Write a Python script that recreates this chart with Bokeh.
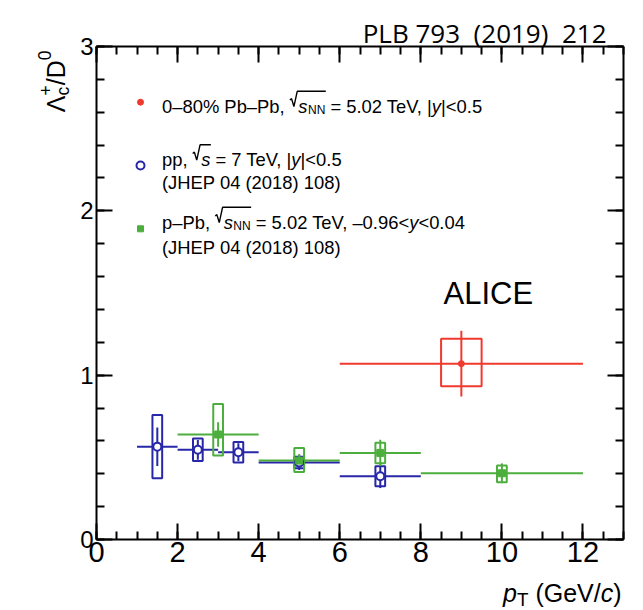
import numpy as np
from bokeh.plotting import figure
from bokeh.models import Range1d, LinearAxis, Label, FixedTicker, CustomJSTickFormatter
from bokeh.embed import file_html
from bokeh.resources import INLINE

# ---------------- data ----------------
pbpb_x = [9.0]
pbpb_xlo = [6.0]
pbpb_xhi = [12.0]
pbpb_y = [1.07]
pbpb_stat = [0.20]
pbpb_sys_lo = [0.138]
pbpb_sys_hi = [0.151]

pp_x = [1.5, 2.5, 3.5, 5.0, 7.0]
pp_xlo = [1.0, 2.0, 3.0, 4.0, 6.0]
pp_xhi = [2.0, 3.0, 4.0, 6.0, 8.0]
pp_y = [0.565, 0.546, 0.531, 0.468, 0.385]
pp_stat = [0.117, 0.060, 0.055, 0.045, 0.072]
pp_sys = [0.193, 0.068, 0.062, 0.035, 0.061]

ppb_x = [3.0, 5.0, 7.0, 10.0]
ppb_xlo = [2.0, 4.0, 6.0, 8.0]
ppb_xhi = [4.0, 6.0, 8.0, 12.0]
ppb_y = [0.639, 0.480, 0.527, 0.403]
ppb_stat = [0.075, 0.040, 0.080, 0.060]
ppb_sys_lo = [0.128, 0.070, 0.063, 0.054]
ppb_sys_hi = [0.186, 0.077, 0.061, 0.047]

x_major_ticks = [0, 2, 4, 6, 8, 10, 12]
x_minor_ticks = [i * 0.5 for i in range(27)]
y_major_ticks = [0, 1, 2, 3]
y_minor_ticks = [round(i * 0.2, 1) for i in range(16)]
X_LIMITS = (0.0, 13.0)
Y_LIMITS = (0.0, 3.0)

# ---------------- styles / layout ----------------
RED = "#f03a2e"
BLUE = "#2727a8"
GREEN = "#4cae3c"
FONT = "Liberation Sans"

W, H = 643, 610
# frame of the ROOT pad, in picture pixels
FL, FR, FT, FB = 96.0, 623.0, 46.0, 539.0
SX = (FR - FL) / (X_LIMITS[1] - X_LIMITS[0])
SY = (FB - FT) / (Y_LIMITS[1] - Y_LIMITS[0])


def gx(px):
    return X_LIMITS[0] + (px - FL) / SX


def gy(py):
    return Y_LIMITS[0] + (FB - py) / SY


p = figure(width=W, height=H,
           x_range=Range1d(gx(0), gx(W)), y_range=Range1d(gy(H), gy(0)),
           output_backend="svg", toolbar_location=None, min_border=0,
           x_axis_location=None, y_axis_location=None)
p.xgrid.visible = False
p.ygrid.visible = False
p.outline_line_color = None
p.background_fill_color = "white"
p.border_fill_color = "white"


def make_axis(ticks, minor, bounds, loc, show_labels, standoff, label_size):
    ax = LinearAxis(ticker=FixedTicker(ticks=ticks, minor_ticks=minor),
                    bounds=bounds, fixed_location=loc)
    ax.axis_line_width = 2
    ax.axis_line_color = "black"
    ax.major_tick_in = 16
    ax.major_tick_out = 0
    ax.minor_tick_in = 8
    ax.minor_tick_out = 0
    ax.major_tick_line_width = 2
    ax.minor_tick_line_width = 2
    ax.major_tick_line_color = "black"
    ax.minor_tick_line_color = "black"
    ax.major_label_text_font = FONT
    ax.major_label_text_font_size = label_size
    ax.major_label_text_color = "black"
    ax.major_label_standoff = standoff
    if not show_labels:
        ax.formatter = CustomJSTickFormatter(code="return ''")
    return ax


p.add_layout(make_axis(x_major_ticks, x_minor_ticks, X_LIMITS, Y_LIMITS[0], True, 2, "29px"), "below")
p.add_layout(make_axis(y_major_ticks, y_minor_ticks, Y_LIMITS, X_LIMITS[0], True, 3, "24px"), "left")
p.add_layout(make_axis(x_major_ticks, x_minor_ticks, X_LIMITS, Y_LIMITS[1], False, 0, "24px"), "above")
p.add_layout(make_axis(y_major_ticks, y_minor_ticks, Y_LIMITS, X_LIMITS[1], False, 0, "24px"), "right")


# ---------------- data drawing ----------------
def draw_series(x, xlo, xhi, y, stat, slo, shi, color, hw):
    p.quad(left=[a - hw for a in x], right=[a + hw for a in x],
           bottom=[b - s for b, s in zip(y, slo)], top=[b + s for b, s in zip(y, shi)],
           fill_color=None, line_color=color, line_width=2)
    p.segment(x0=xlo, y0=y, x1=xhi, y1=y, line_color=color, line_width=2)
    p.segment(x0=x, y0=[b - s for b, s in zip(y, stat)], x1=x, y1=[b + s for b, s in zip(y, stat)],
              line_color=color, line_width=2)


draw_series(pp_x, pp_xlo, pp_xhi, pp_y, pp_stat, pp_sys, pp_sys, BLUE, 0.12)
draw_series(ppb_x, ppb_xlo, ppb_xhi, ppb_y, ppb_stat, ppb_sys_lo, ppb_sys_hi, GREEN, 0.12)
draw_series(pbpb_x, pbpb_xlo, pbpb_xhi, pbpb_y, pbpb_stat, pbpb_sys_lo, pbpb_sys_hi, RED, 0.5)

p.scatter(pp_x, pp_y, marker="circle", size=8, fill_color="white", line_color=BLUE, line_width=2)
p.scatter(ppb_x, ppb_y, marker="square", size=7, fill_color=GREEN, line_color=GREEN, line_width=1)
p.scatter(pbpb_x, pbpb_y, marker="circle", size=6, fill_color=RED, line_color=RED, line_width=1)

# ---------------- text helpers ----------------
FWID = {' ': 0.278, '%': 0.889, '(': 0.333, ')': 0.333, '+': 0.584, ',': 0.278, '.': 0.278,
        '/': 0.278, '<': 0.584, '=': 0.584, 'A': 0.667, 'B': 0.667, 'C': 0.722, 'D': 0.722,
        'E': 0.667, 'G': 0.778, 'H': 0.722, 'I': 0.278, 'J': 0.5, 'L': 0.556, 'N': 0.722,
        'P': 0.667, 'T': 0.611, 'V': 0.667, 'b': 0.556, 'c': 0.5, 'e': 0.556, 'p': 0.556,
        's': 0.5, 'y': 0.5, '|': 0.26, '\u2013': 0.556, '\u039b': 0.667}
for d in "0123456789":
    FWID[d] = 0.556
KERN = {"Te": -0.111, "V,": -0.111}


def tw(s):
    w = sum(FWID.get(ch, 0.556) for ch in s)
    w += sum(KERN.get(s[i:i + 2], 0.0) for i in range(len(s) - 1))
    return w


def lab(xp, yp, text, fs, italic=False, angle=0.0, font=FONT, color="black", align="left"):
    lead = len(text) - len(text.lstrip(" "))
    shift = tw(" " * lead) * fs
    if angle == 0.0:
        xp += shift
    else:
        yp -= shift
    p.add_layout(Label(x=gx(xp), y=gy(yp), text=text.strip(" "), text_font=font,
                       text_font_size="%.1fpx" % fs,
                       text_font_style="italic" if italic else "normal",
                       text_color=color, text_align=align, text_baseline="alphabetic",
                       angle=angle))


def radical(x0, x_end, base, fs):
    xs = [x0, x0 + 0.09 * fs, x0 + 0.22 * fs, x0 + 0.40 * fs, x_end]
    ys = [base - 0.33 * fs, base - 0.40 * fs, base + 0.03 * fs, base - 0.80 * fs, base - 0.80 * fs]
    p.line([gx(v) for v in xs], [gy(v) for v in ys], line_color="black", line_width=1.4)


def legend_line(prefix, sub, rest_runs, x, base, fs):
    pos = x
    lab(pos, base, prefix, fs)
    pos += tw(prefix) * fs
    rx = pos
    pos += 0.46 * fs
    lab(pos, base, "s", fs, italic=True)
    pos += tw("s") * fs
    if sub:
        sfs = 0.65 * fs
        lab(pos + 0.5, base + 0.22 * fs, sub, sfs)
        pos += tw(sub) * sfs + 0.5
    radical(rx, pos + 0.5, base, fs)
    for t, it in rest_runs:
        lab(pos, base, t, fs, italic=it)
        pos += tw(t) * fs


LFS = 18.4
LX = 161.5
legend_line("0\u201380% Pb\u2013Pb, ", "NN",
            [(" = 5.02 TeV, |", False), ("y", True), ("|<0.5", False)], LX, 105.5, LFS)
legend_line("pp, ", "",
            [(" = 7 TeV, |", False), ("y", True), ("|<0.5", False)], LX, 159.0, LFS)
lab(LX, 182.0, "(JHEP 04 (2018) 108)", LFS)
legend_line("p\u2013Pb, ", "NN",
            [(" = 5.02 TeV, \u20130.96<", False), ("y", True), ("<0.04", False)], LX, 221.5, LFS)
lab(LX, 246.5, "(JHEP 04 (2018) 108)", LFS)

# legend swatches
p.scatter([gx(140)], [gy(101.7)], marker="circle", size=6, fill_color=RED, line_color=RED)
p.scatter([gx(140)], [gy(165.0)], marker="circle", size=8, fill_color="white", line_color=BLUE, line_width=2)
p.scatter([gx(140)], [gy(228.3)], marker="square", size=6, fill_color=GREEN, line_color=GREEN)

# ALICE
lab(443, 292.7, "ALICE", 31)

# x-axis title  p_T (GeV/c), right aligned at frame edge
XT_FS = 25
xt_runs = [("p", True, 1.0, 0.0), ("T", False, 0.75, 0.28), (" (GeV/", False, 1.0, 0.0),
           ("c", True, 1.0, 0.0), (")", False, 1.0, 0.0)]
total = sum(tw(t) * XT_FS * sc for t, it, sc, sh in xt_runs)
pos = 621 - total
for t, it, sc, sh in xt_runs:
    lab(pos, 592 + sh * XT_FS, t, XT_FS * sc, italic=it)
    pos += tw(t) * XT_FS * sc

# y-axis title  Lambda_c^+ / D^0, rotated
YT_FS = 25
ybase_x = 55.0
pos = 111.7
ang = np.pi / 2
lab(ybase_x, pos, "\u039b", YT_FS, angle=ang)
pos -= tw("\u039b") * YT_FS
lab(ybase_x + 0.28 * YT_FS, pos, "c", 0.7 * YT_FS, angle=ang)
lab(ybase_x - 0.40 * YT_FS, pos, "+", 0.7 * YT_FS, angle=ang)
pos -= tw("+") * 0.7 * YT_FS
lab(ybase_x, pos, "/D", YT_FS, angle=ang)
pos -= tw("/D") * YT_FS
lab(ybase_x - 0.45 * YT_FS, pos, "0", 0.7 * YT_FS, angle=ang)

# journal reference
lab(606, 32, "PLB 793\u00a0 (2019)\u00a0 212", 26, font="Open Sans", align="right")

open("out.html", "w").write(file_html(p, INLINE))
